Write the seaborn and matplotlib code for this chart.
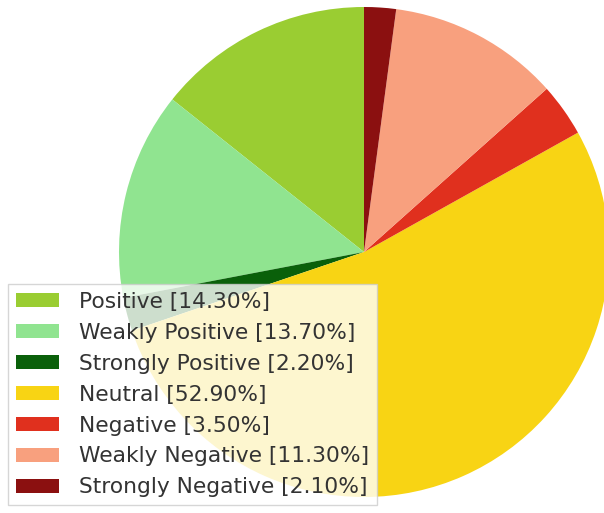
import matplotlib
matplotlib.use("Agg")
import matplotlib.pyplot as plt
import seaborn as sns

categories = ["Positive", "Weakly Positive", "Strongly Positive", "Neutral",
              "Negative", "Weakly Negative", "Strongly Negative"]
shares = [14.30, 13.70, 2.20, 52.90, 3.50, 11.30, 2.10]
colors = ["#9ACD32", "#90E490", "#0A600A", "#F8D414",
          "#E0301E", "#F8A07E", "#8B1010"]

sns.set_theme(style="white")
plt.rcParams['font.family'] = ['DejaVu Sans']

fig = plt.figure(figsize=(6.04, 5.13), dpi=100)
ax = fig.add_axes([119/604, 16/513, 490/604, 490/513])
wedges, _ = ax.pie(shares, colors=colors, startangle=90, counterclock=True,
                   radius=1.0, wedgeprops=dict(linewidth=0))
ax.set_xlim(-1, 1)
ax.set_ylim(-1, 1)
ax.set_aspect('auto')
ax.axis('off')

labels = [f"{c} [{v:.2f}%]" for c, v in zip(categories, shares)]
leg = fig.legend(wedges, labels, loc='lower left',
                 bbox_to_anchor=(8/604, 8/513), fontsize=15.7,
                 frameon=True, fancybox=False, framealpha=0.8,
                 edgecolor='#cccccc', handlelength=2.0, handleheight=0.6,
                 labelspacing=0.5, borderpad=0.35, handletextpad=0.9,
                 borderaxespad=0)
for t in leg.get_texts():
    t.set_color('#333333')

fig.savefig("out.png", dpi=100)
